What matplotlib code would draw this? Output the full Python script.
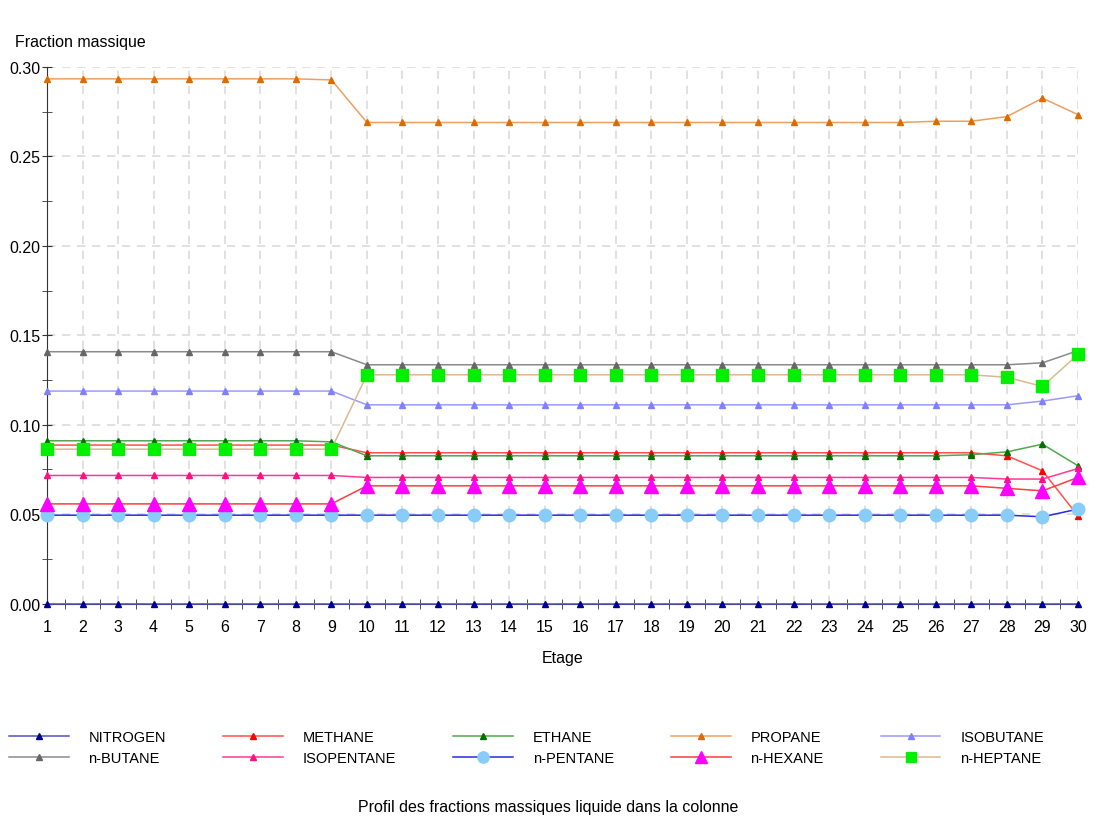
import matplotlib
matplotlib.use("Agg")
import matplotlib.pyplot as plt
from matplotlib.ticker import MultipleLocator, FormatStrFormatter

plt.rcParams['font.family'] = ['Liberation Sans', 'DejaVu Sans']

stages = list(range(1, 31))

nitrogen = [0.0] * 30
methane = [0.0886] * 9 + [0.0843] * 18 + [0.0826, 0.0742, 0.0490]
ethane = [0.0910] * 8 + [0.0904] + [0.0826] * 17 + [0.0832, 0.0848, 0.0891, 0.0770]
propane = [0.2934] * 8 + [0.2928] + [0.2690] * 16 + [0.2697, 0.2697, 0.2723, 0.2826, 0.2734]
isobutane = [0.1188] * 9 + [0.1111] * 19 + [0.1132, 0.1162]
n_butane = [0.1408] * 9 + [0.1335] * 19 + [0.1346, 0.1414]
isopentane = [0.0716] * 9 + [0.0705] * 18 + [0.0696, 0.0696, 0.0755]
n_pentane = [0.0494] * 28 + [0.0485, 0.0528]
n_hexane = [0.0557] * 9 + [0.0658] * 18 + [0.0644, 0.0630, 0.0705]
n_heptane = [0.0863] * 9 + [0.1279] * 18 + [0.1265, 0.1214, 0.1393]

# name, values, line colour, marker, marker colour, marker size
series = [
    ("NITROGEN", nitrogen, "#5050c0", "^", "#000090", 4.5),
    ("METHANE", methane, "#ff5050", "^", "#ff0000", 4.5),
    ("ETHANE", ethane, "#50a850", "^", "#007000", 4.5),
    ("PROPANE", propane, "#eca060", "^", "#dc6c00", 4.5),
    ("ISOBUTANE", isobutane, "#9a9aff", "^", "#8080ff", 4.5),
    ("n-BUTANE", n_butane, "#8a8a8a", "^", "#666666", 4.5),
    ("ISOPENTANE", isopentane, "#ff3898", "^", "#ff1080", 4.5),
    ("n-PENTANE", n_pentane, "#2828e8", "o", "#88ccf8", 9),
    ("n-HEXANE", n_hexane, "#ff3c3c", "^", "#ff00ff", 10),
    ("n-HEPTANE", n_heptane, "#dcb890", "s", "#00f000", 8.5),
]

fig = plt.figure(figsize=(10.97, 8.2), dpi=100)
ax = fig.add_axes([0.0428, 0.2628, 0.9399, 0.6542])

handles = []
for name, vals, lc, mk, mc, ms in series:
    h, = ax.plot(stages, vals, color=lc, lw=1.1, marker=mk, markersize=ms,
                 markerfacecolor=mc, markeredgecolor=mc, label=name,
                 clip_on=False, zorder=3)
    handles.append(h)

ax.set_xlim(1, 30)
ax.set_ylim(0, 0.30)
ax.set_xticks(stages)
ax.set_xticks([s + 0.5 for s in stages[:-1]], minor=True)
ax.yaxis.set_major_locator(MultipleLocator(0.05))
ax.yaxis.set_minor_locator(MultipleLocator(0.025))
ax.yaxis.set_major_formatter(FormatStrFormatter('%.2f'))
ax.grid(True, which='major', color='#dcdcdc', linestyle=(0, (5, 4)), lw=1.2)
ax.set_axisbelow(True)
for side in ('top', 'right'):
    ax.spines[side].set_visible(False)
for side in ('left', 'bottom'):
    ax.spines[side].set_color('#333333')
ax.tick_params(axis='x', which='major', length=0, labelsize=11.5, pad=11)
ax.tick_params(axis='x', which='minor', direction='inout', length=7,
               color='#333333')
ax.tick_params(axis='y', which='both', direction='inout', length=7,
               color='#333333')
ax.tick_params(axis='y', which='major', labelsize=11.5, pad=1)

ax.set_xlabel("Etage", fontsize=11.5, labelpad=12)
fig.text(0.0137, 0.948, "Fraction massique", fontsize=11.5, va='center')
fig.text(0.5, 0.015, "Profil des fractions massiques liquide dans la colonne",
         fontsize=11.5, ha='center', va='center')

order = [0, 5, 1, 6, 2, 7, 3, 8, 4, 9]
fig.legend([handles[i] for i in order], [series[i][0] for i in order],
           ncol=5, loc='center left', bbox_to_anchor=(0.008, 0.087),
           frameon=False, fontsize=10.5, handlelength=4.1, handletextpad=1.37,
           columnspacing=3.9, labelspacing=0.45, borderaxespad=0,
           borderpad=0, markerscale=0.9)

fig.savefig("out.png", dpi=100)
